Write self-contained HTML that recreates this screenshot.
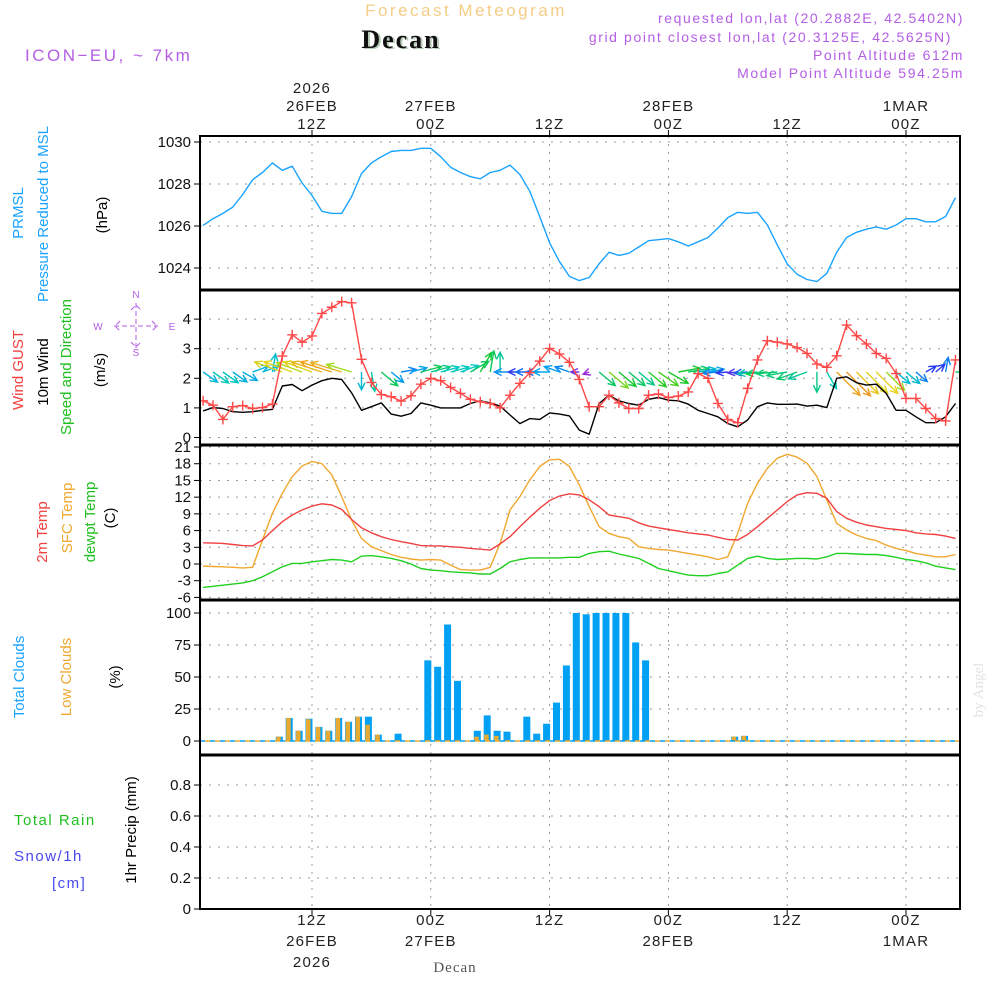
<!DOCTYPE html>
<html><head><meta charset="utf-8"><style>
body{margin:0;background:#fff;}
svg{display:block;font-family:"Liberation Sans",sans-serif;}
</style></head><body>
<svg id="chart" width="1000" height="1000" viewBox="0 0 1000 1000" xmlns="http://www.w3.org/2000/svg">
<defs><clipPath id="plotclip"><rect x="201" y="137" width="758" height="771"/></clipPath></defs>
<rect width="1000" height="1000" fill="#fff"/>
<text x="466" y="16" text-anchor="middle" font-size="17" fill="#f5cd88" letter-spacing="2.5">Forecast Meteogram</text>
<text x="403" y="49" text-anchor="middle" font-size="26" font-weight="bold" font-family="Liberation Serif,serif" fill="#b8ccb8" letter-spacing="2">Decan</text>
<text x="401" y="48" text-anchor="middle" font-size="26" font-weight="bold" font-family="Liberation Serif,serif" fill="#111" letter-spacing="2">Decan</text>
<text x="25" y="61" font-size="17" fill="#b45ee6" letter-spacing="2.5">ICON−EU, ~ 7km</text>
<g font-size="14" fill="#b45ee6" text-anchor="end" letter-spacing="1.6">
<text x="964" y="23">requested lon,lat (20.2882E, 42.5402N)</text>
<text x="952" y="42">grid point closest lon,lat (20.3125E, 42.5625N)</text>
<text x="964" y="60">Point Altitude 612m</text>
<text x="964" y="78">Model Point Altitude 594.25m</text>
</g>
<g id="grid"></g>
<g id="marks" clip-path="url(#plotclip)"></g>
<g id="frames" fill="none" stroke="#000">
<rect x="200" y="136" width="760" height="773" stroke-width="2"/>
<line x1="200" y1="290" x2="960" y2="290" stroke-width="3"/>
<line x1="200" y1="445" x2="960" y2="445" stroke-width="3"/>
<line x1="200" y1="600" x2="960" y2="600" stroke-width="3"/>
<line x1="200" y1="755" x2="960" y2="755" stroke-width="3"/>
</g>
<g id="labels" font-size="15"></g>
<g font-size="15">
<text transform="translate(23,213) rotate(-90)" text-anchor="middle" fill="#1aa3ff">PRMSL</text>
<text transform="translate(48,214) rotate(-90)" text-anchor="middle" fill="#1aa3ff">Pressure Reduced to MSL</text>
<text transform="translate(107,215) rotate(-90)" text-anchor="middle" fill="#000">(hPa)</text>
<text transform="translate(23,370) rotate(-90)" text-anchor="middle" fill="#f04040">Wind GUST</text>
<text transform="translate(48,372) rotate(-90)" text-anchor="middle" fill="#000">10m Wind</text>
<text transform="translate(71,367) rotate(-90)" text-anchor="middle" fill="#20c020">Speed and Direction</text>
<text transform="translate(105,370) rotate(-90)" text-anchor="middle" fill="#000">(m/s)</text>
<text transform="translate(47,532) rotate(-90)" text-anchor="middle" fill="#f04040">2m Temp</text>
<text transform="translate(72,518) rotate(-90)" text-anchor="middle" fill="#f0a830">SFC Temp</text>
<text transform="translate(95,522) rotate(-90)" text-anchor="middle" fill="#20c020">dewpt Temp</text>
<text transform="translate(115,518) rotate(-90)" text-anchor="middle" fill="#000">(C)</text>
<text transform="translate(24,677) rotate(-90)" text-anchor="middle" fill="#1aa3ff">Total Clouds</text>
<text transform="translate(71,677) rotate(-90)" text-anchor="middle" fill="#f0a830">Low Clouds</text>
<text transform="translate(120,677) rotate(-90)" text-anchor="middle" fill="#000">(%)</text>
<text transform="translate(136,830) rotate(-90)" text-anchor="middle" fill="#000">1hr Precip (mm)</text>
<text x="14" y="825" fill="#20c020" letter-spacing="1.5">Total  Rain</text>
<text x="14" y="861" fill="#4848f0" letter-spacing="1.5">Snow/1h</text>
<text x="52" y="888" fill="#4848f0" letter-spacing="1.5">[cm]</text>
</g>
<g font-size="10" fill="#b45ee6" stroke="none">
<text x="136" y="298" text-anchor="middle">N</text>
<text x="136" y="356" text-anchor="middle">S</text>
<text x="98" y="330" text-anchor="middle">W</text>
<text x="172" y="330" text-anchor="middle">E</text>
<path d="M136 303 V350 M114 326 H158 M131 310 L136 305 L141 310 M131 342 L136 347 L141 342 M120 321 L115 326 L120 331 M152 321 L157 326 L152 331" stroke="#b45ee6" stroke-width="1" fill="none" stroke-dasharray="5 3"/>
</g>
<text transform="translate(983,690) rotate(-90)" text-anchor="middle" font-size="15" font-family="Liberation Serif,serif" fill="#e2e2e2">by Angel</text>
<text x="455" y="972" text-anchor="middle" font-size="15" font-family="Liberation Serif,serif" fill="#555" letter-spacing="1">Decan</text>
</svg>
<script>
const hours = [];
for (let h = 1; h <= 77; h++) hours.push(h);
const pressure = [1026.03,1026.35,1026.6,1026.9,1027.5,1028.2,1028.55,1029.0,1028.65,1028.85,1028.05,1027.45,1026.7,1026.6,1026.6,1027.4,1028.5,1029.0,1029.3,1029.55,1029.6,1029.6,1029.7,1029.7,1029.3,1028.8,1028.55,1028.35,1028.25,1028.55,1028.65,1028.9,1028.45,1027.65,1026.45,1025.2,1024.3,1023.6,1023.4,1023.55,1024.2,1024.75,1024.6,1024.7,1025.0,1025.3,1025.35,1025.4,1025.25,1025.05,1025.25,1025.45,1025.9,1026.4,1026.65,1026.6,1026.65,1026.05,1025.1,1024.2,1023.7,1023.45,1023.35,1023.75,1024.75,1025.45,1025.7,1025.85,1025.95,1025.85,1026.05,1026.35,1026.35,1026.2,1026.2,1026.45,1027.35];
const gust = [1.24,1.09,0.61,1.04,1.08,0.98,1.01,1.13,2.75,3.47,3.22,3.43,4.19,4.4,4.59,4.55,2.64,1.86,1.45,1.38,1.23,1.41,1.8,2.0,1.92,1.69,1.49,1.29,1.21,1.15,1.0,1.43,1.83,2.19,2.58,3.01,2.82,2.54,1.96,1.04,1.04,1.43,1.17,0.98,0.98,1.43,1.47,1.35,1.4,1.54,2.16,2.0,1.15,0.61,0.5,1.66,2.62,3.27,3.22,3.16,3.04,2.84,2.48,2.37,2.76,3.8,3.44,3.16,2.84,2.67,2.16,1.32,1.32,0.98,0.64,0.56,2.62];
const wind10m = [0.9,1.01,0.98,0.87,0.85,0.87,0.92,0.95,1.74,1.79,1.58,1.77,1.92,2.0,1.96,1.51,0.92,1.04,1.17,0.79,0.72,0.81,1.17,1.09,1.0,1.0,1.0,1.15,1.24,1.17,1.06,0.76,0.47,0.64,0.61,0.83,0.79,0.73,0.25,0.11,1.15,1.43,1.24,1.15,1.09,1.29,1.35,1.26,1.24,1.13,0.92,0.81,0.7,0.47,0.36,0.59,1.04,1.17,1.12,1.12,1.13,1.06,1.09,1.01,2.0,2.05,1.85,1.77,1.8,1.49,0.92,0.92,0.7,0.5,0.5,0.7,1.15];
const windDir = [-35,-35,-35,-35,-30,20,20,80,160,160,160,160,162,162,163,163,-90,-80,-40,-40,10,15,15,15,15,15,20,30,60,80,90,180,180,180,180,180,160,160,180,200,-40,-40,-40,-40,-40,-40,-35,-30,10,10,10,10,185,185,185,185,185,185,185,190,200,200,-90,-60,-45,-45,-45,-45,-45,-45,-40,-40,-40,30,40,80,0];
const t2m = [3.8,3.75,3.7,3.5,3.3,3.25,4.3,6.0,7.6,8.8,9.7,10.4,10.8,10.6,9.8,8.0,6.5,5.6,4.9,4.4,4.0,3.7,3.3,3.25,3.25,3.1,3.0,2.8,2.65,2.5,3.6,4.9,6.7,8.4,10.0,11.4,12.2,12.6,12.4,11.5,10.3,8.8,8.5,8.2,7.4,6.8,6.5,6.2,5.9,5.6,5.4,5.2,4.8,4.4,4.3,5.3,6.7,8.2,9.7,11.2,12.4,12.8,12.7,11.8,9.4,8.2,7.5,7.0,6.7,6.4,6.2,6.0,5.6,5.4,5.3,5.0,4.6];
const tsfc = [-0.36,-0.45,-0.5,-0.6,-0.7,-0.6,4.3,9.1,12.7,15.7,17.6,18.4,18.0,16.0,12.1,7.9,4.6,3.1,2.4,1.7,1.2,0.9,0.7,0.8,0.7,-0.2,-1.0,-1.1,-1.1,-0.6,3.7,9.7,12.1,15.1,17.5,18.7,18.8,17.5,14.2,10.3,6.7,5.5,4.9,4.6,3.1,2.8,2.6,2.5,2.2,1.9,1.6,1.3,0.8,1.3,5.5,10.9,14.5,17.2,19.0,19.7,19.2,18.1,15.7,11.5,7.3,6.1,5.2,4.6,4.2,3.4,2.8,2.4,1.9,1.6,1.3,1.3,1.7];
const dewpt = [-4.2,-4.0,-3.8,-3.6,-3.4,-3.0,-2.3,-1.4,-0.5,0.1,0.1,0.4,0.6,0.8,0.7,0.4,1.4,1.5,1.3,1.0,0.6,0.0,-0.8,-1.1,-1.2,-1.4,-1.5,-1.6,-1.8,-1.8,-0.8,0.4,0.8,1.1,1.1,1.1,1.1,1.2,1.2,1.9,2.2,2.3,1.8,1.4,1.0,0.1,-0.8,-1.2,-1.6,-2.0,-2.1,-2.1,-1.7,-1.4,-0.2,1.0,1.4,1.0,0.8,0.9,1.0,1.0,0.9,1.3,1.9,1.9,1.8,1.7,1.7,1.5,1.2,0.8,0.6,0.2,-0.4,-0.7,-1.0];
const totalClouds = [0,0,0,0,0,0,0,0,3.4,18,8,17.4,11,8,18,15,19,19,5,0,5.7,0,0,63,58,91,47,0,8,20,8,7.3,0,19,5.7,13.5,30,59,100,99,100,100,100,100,77,63,0,0,0,0,0,0,0,0,3.4,4,0,0,0,0,0,0,0,0,0,0,0,0,0,0,0,0,0,0,0,0,0];
const lowClouds = [0,0,0,0,0,0,0,0,3.4,18,8,17,11,8,18,15,19,12.7,5,0,0,0,0,0,0,0,0,0,3.4,5,4,0,0,0,0,0,0,0,0,0,0,0,0,0,0,0,0,0,0,0,0,0,0,0,3.4,4,0,0,0,0,0,0,0,0,0,0,0,0,0,0,0,0,0,0,0,0,0];
const pTicks = [1024,1026,1028,1030];
const wTicks = [0,1,2,3,4];
const tTicks = [-6,-3,0,3,6,9,12,15,18,21];
const cTicks = [0,25,50,75,100];
const rTicks = [0,0.2,0.4,0.6,0.8];
const timeTicks = [12,24,36,48,60,72];
const topLabels = [["2026","26FEB","12Z"],["","27FEB","00Z"],["","","12Z"],["","28FEB","00Z"],["","","12Z"],["","1MAR","00Z"]];
const bottomLabels = [["12Z","26FEB","2026"],["00Z","27FEB",""],["12Z","",""],["00Z","28FEB",""],["12Z","",""],["00Z","1MAR",""]];

const NS = "http://www.w3.org/2000/svg";
const xS = h => 312 + (h - 12) * 9.9;
const yP = p => 142 + (1030 - p) * 21;
const yW = v => 437.5 - v * 29.6;
const yT = t => 564 - t * 5.57;
const yC = c => 741 - c * 1.28;
const yR = r => 909 - r * 155;
function mk(tag, attrs, parent) {
  const e = document.createElementNS(NS, tag);
  for (const k in attrs) e.setAttribute(k, attrs[k]);
  parent.appendChild(e);
  return e;
}
const grid = document.getElementById('grid');
const marks = document.getElementById('marks');
const labels = document.getElementById('labels');

timeTicks.forEach((h, i) => {
  const x = xS(h);
  const g = mk('line', {x1: x, y1: 136, x2: x, y2: 909, stroke: '#999', 'stroke-dasharray': '2 6'}, grid);
  
  
  const tk = mk('line', {x1: x, y1: 130, x2: x, y2: 136, stroke: '#000'}, grid);
  
  
  const tb = mk('line', {x1: x, y1: 909, x2: x, y2: 915, stroke: '#000'}, grid);
  
  
  topLabels[i].forEach((s, j) => {
    if (!s) return;
    const t = mk('text', {x: x, y: 93 + j * 18, 'text-anchor': 'middle', fill: '#222', 'letter-spacing': '1.2'}, labels);
    t.textContent = s;
    
    
  });
  bottomLabels[i].forEach((s, j) => {
    if (!s) return;
    const t = mk('text', {x: x, y: 925 + j * 21, 'text-anchor': 'middle', fill: '#222', 'letter-spacing': '1.2'}, labels);
    t.textContent = s;
    
    
  });
});
function yAxis(ticks, yf, fmt, name) {
  ticks.forEach(v => {
    const y = yf(v);
    const g = mk('line', {x1: 200, y1: y, x2: 960, y2: y, stroke: '#999', 'stroke-dasharray': '2 7'}, grid);
    
    
    const tk = mk('line', {x1: 194, y1: y, x2: 200, y2: y, stroke: '#000'}, grid);
    
    
    const t = mk('text', {x: 191, y: y + 5, 'text-anchor': 'end', fill: '#111'}, labels);
    t.textContent = fmt(v);
    
    
  });
}
yAxis(pTicks, yP, v => String(v), 'pressure');
yAxis(wTicks, yW, v => String(v), 'wind');
yAxis(tTicks, yT, v => String(v), 'temp');
yAxis(cTicks, yC, v => String(v), 'cloud');
yAxis(rTicks, yR, v => String(v), 'precip');

function line(vals, yf, color, name, w) {
  const d = vals.map((v, i) => (i ? 'L' : 'M') + xS(hours[i]).toFixed(1) + ' ' + yf(v).toFixed(1)).join(' ');
  const p = mk('path', {d: d, fill: 'none', stroke: color, 'stroke-width': w || 1.4, 'stroke-linejoin': 'round'}, marks);
  
  
}
line(pressure, yP, '#1aa3ff', 'pressure-line');

hours.forEach((h, i) => {
  const x = xS(h);
  if (totalClouds[i] > 0) {
    const b = mk('rect', {x: x - 6.5, y: yC(totalClouds[i]), width: 7, height: yC(0) - yC(totalClouds[i]), fill: '#00a0f5'}, marks);
    
    
  }
  if (lowClouds[i] > 0) {
    const b = mk('rect', {x: x - 6, y: yC(lowClouds[i]), width: 4.5, height: yC(0) - yC(lowClouds[i]), fill: '#e8aa30'}, marks);
    
    
  }
});
const cb = mk('line', {x1: 200, y1: yC(0), x2: 960, y2: yC(0), stroke: '#00a0f5', 'stroke-dasharray': '5 5', 'stroke-width': 1.5}, marks);


const cb2 = mk('line', {x1: 205, y1: yC(0), x2: 960, y2: yC(0), stroke: '#e8aa30', 'stroke-dasharray': '5 5', 'stroke-width': 1.5}, marks);


const rb = mk('line', {x1: 200, y1: yR(0), x2: 960, y2: yR(0), stroke: '#000', 'stroke-dasharray': '6 3', 'stroke-width': 1.5}, marks);



line(dewpt, yT, '#20d020', 'dewpoint-line');
line(tsfc, yT, '#f0a830', 'sfc-temp-line');
line(t2m, yT, '#f04040', 't2m-line');

function speedColor(s) {
  const stops = [[0.1,[160,40,220]],[0.5,[40,60,240]],[0.8,[0,160,240]],[1.0,[0,200,190]],[1.25,[20,200,40]],[1.5,[160,220,30]],[1.8,[230,210,30]],[2.1,[240,140,30]]];
  if (s <= stops[0][0]) return 'rgb(' + stops[0][1] + ')';
  for (let i = 1; i < stops.length; i++) {
    if (s <= stops[i][0]) {
      const a = stops[i-1], b = stops[i], f = (s - a[0]) / (b[0] - a[0]);
      return 'rgb(' + a[1].map((c, k) => Math.round(c + (b[1][k] - c) * f)).join(',') + ')';
    }
  }
  return 'rgb(' + stops[stops.length-1][1] + ')';
}
hours.forEach((h, i) => {
  const s = wind10m[i], a = windDir[i] * Math.PI / 180;
  const L = 5 + s * 14;
  const x0 = xS(h), y0 = 372;
  const x1 = x0 + Math.cos(a) * L, y1 = y0 - Math.sin(a) * L;
  const ha = 0.45, hl = 8;
  const bx1 = x1 - Math.cos(a - ha) * hl, by1 = y1 + Math.sin(a - ha) * hl;
  const bx2 = x1 - Math.cos(a + ha) * hl, by2 = y1 + Math.sin(a + ha) * hl;
  const p = mk('path', {d: `M${x0.toFixed(1)} ${y0} L${x1.toFixed(1)} ${y1.toFixed(1)} M${bx1.toFixed(1)} ${by1.toFixed(1)} L${x1.toFixed(1)} ${y1.toFixed(1)} L${bx2.toFixed(1)} ${by2.toFixed(1)}`, fill: 'none', stroke: speedColor(s), 'stroke-width': 1.4}, marks);
  
  
});
line(wind10m, yW, '#000', 'wind-10m-line');
line(gust, yW, '#ff4848', 'gust-line');
hours.forEach((h, i) => {
  const x = xS(h), y = yW(gust[i]);
  const p = mk('path', {d: `M${x-5} ${y} H${x+5} M${x} ${y-5} V${y+5}`, stroke: '#ff4848', 'stroke-width': 1.4}, marks);
  
  
});
</script>
</body></html>
